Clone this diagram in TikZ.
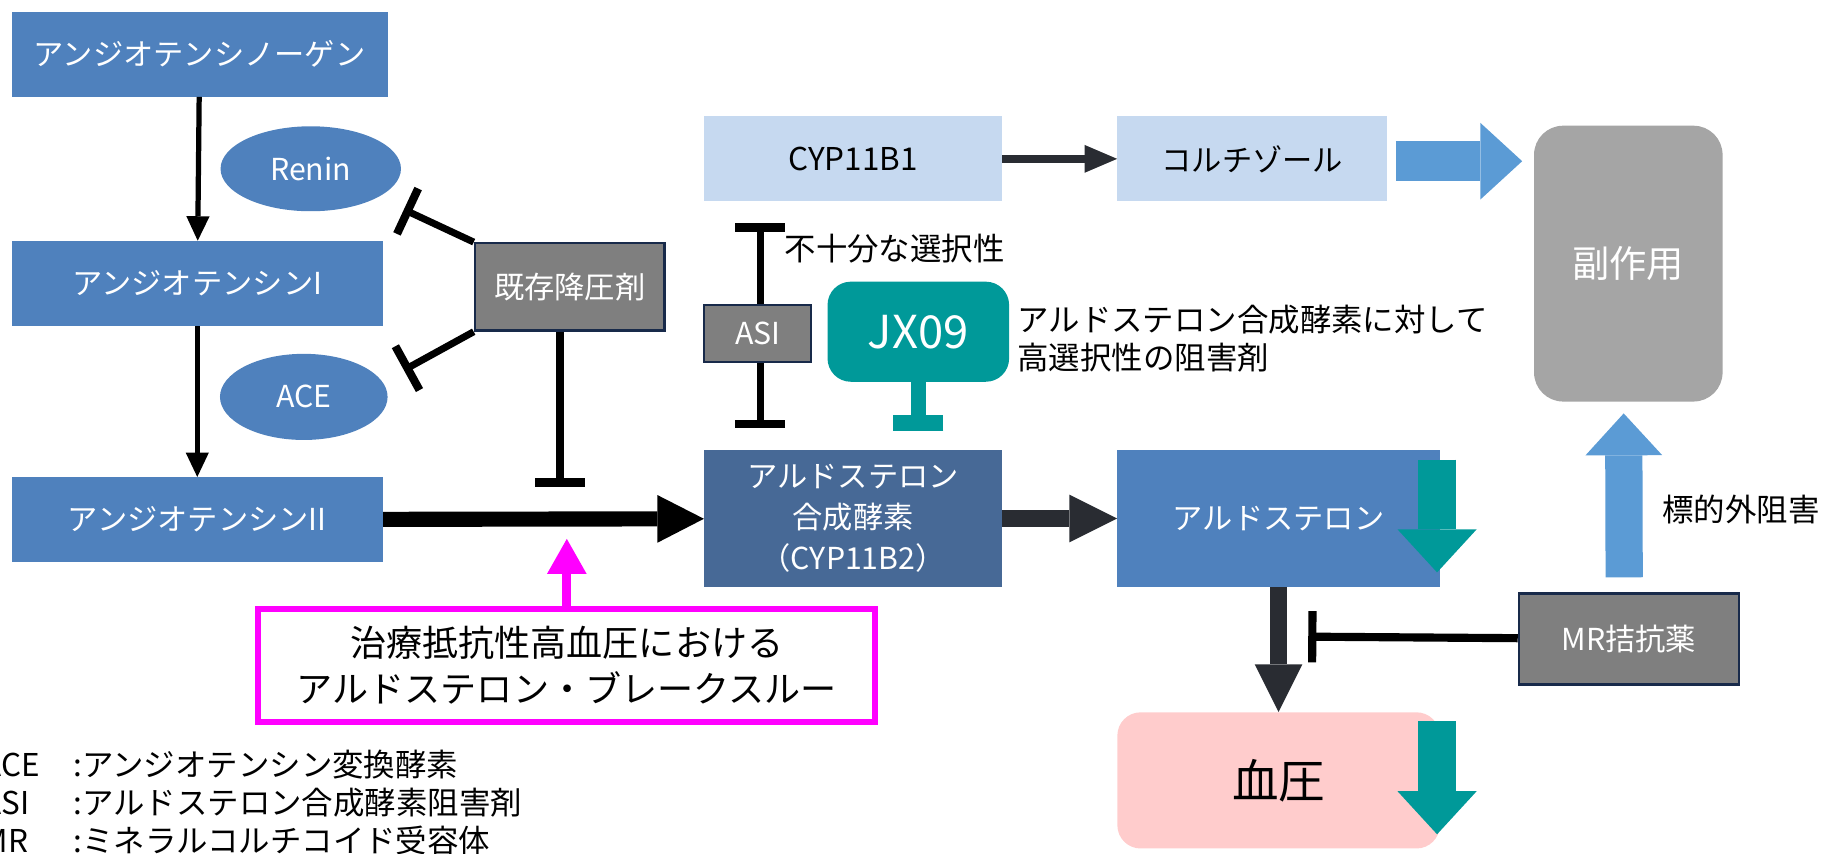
\documentclass[tikz,border=0pt]{standalone}
\usepackage{fontspec}
\setmainfont{Noto Sans CJK JP}
\usetikzlibrary{arrows.meta,calc,shapes.geometric}
\tikzset{
  box/.style={
    rectangle,
    inner sep=0pt,
    align=center,
    font=\fontsize{26}{35}\selectfont
  },
  box-blue/.style={box, fill=raasblue, text=white},
  box-dark/.style={box, fill=cypblue, text=white},
  box-light/.style={box, fill=lightblue, text=black},
  box-gray/.style={box, fill=drugray, draw=navyline, line width=2pt, text=white},
  enzyme/.style={ellipse, inner sep=0pt, fill=raasblue, text=white, font=\fontsize{26}{30}\selectfont},
  note/.style={inner sep=0pt, align=left, font=\fontsize{27}{32}\selectfont},
  arrow-thin/.style={draw=black, line width=4.5pt, -{Triangle[width=20pt,length=21pt,line width=0pt]}},
  arrow-dark/.style={draw=darkline, line width=7pt, -{Triangle[width=24pt,length=28pt,line width=0pt]}},
  arrow-fat/.style={draw=darkline, line width=14pt, -{Triangle[width=41pt,length=41pt,line width=0pt]}},
  arrow-main/.style={draw=black, line width=13pt, -{Triangle[width=41pt,length=40pt,line width=0pt]}},
  arrow-block/.style={draw=arrowblue, line width=34pt, -{Triangle[width=66pt,length=36pt,line width=0pt]}},
  arrow-pink/.style={draw=pinkline, line width=8pt, -{Triangle[width=34pt,length=30pt,line width=0pt]}},
  t-bar/.style={draw=black, line width=6pt, -{Bar[width=43pt,line width=7pt]}},
  down-mark/.style={draw=tealmark, line width=33pt, -{Triangle[width=68pt,length=37pt,line width=0pt]}}
}
\definecolor{raasblue}{RGB}{79,129,189}
\definecolor{cypblue}{RGB}{71,105,150}
\definecolor{lightblue}{RGB}{198,217,240}
\definecolor{drugray}{RGB}{127,127,127}
\definecolor{navyline}{RGB}{24,42,74}
\definecolor{sidegray}{RGB}{165,165,165}
\definecolor{arrowblue}{RGB}{91,155,213}
\definecolor{tealmark}{RGB}{0,153,153}
\definecolor{bppink}{RGB}{255,204,204}
\definecolor{darkline}{RGB}{41,44,50}
\definecolor{pinkline}{RGB}{255,0,255}
\newcommand{\downmark}[1]{
  \draw[down-mark] ($(#1.north east)+(-2.5,8)$) -- ++(0,97);
}

\begin{document}
\begin{tikzpicture}[x=1pt,y=-1pt]
  \useasboundingbox (0,0) rectangle (1568,733);
  \clip (0,0) rectangle (1568,733);

  % renin-angiotensin chain
  \node[box-blue, minimum width=323, minimum height=73] (agt) at (171.5,46.5) {アンジオテンシノーゲン};
  \node[box-blue, minimum width=319, minimum height=73] (ang1) at (169.5,243.5) {アンジオテンシンI};
  \node[box-blue, minimum width=319, minimum height=73] (ang2) at (169.5,446.5) {アンジオテンシンII};
  \node[enzyme, minimum width=155, minimum height=73] (renin) at (267,145) {Renin};
  \node[enzyme, minimum width=144, minimum height=74] (ace) at (261,341) {ACE};
  \node[box-gray, minimum width=163, minimum height=75] (kizon) at (489.5,246.5) {既存降圧剤};

  \draw[arrow-thin] (agt) -- (ang1);
  \draw[arrow-thin] (ang1) -- (ang2);

  \coordinate (renin-bar) at (347,180);
  \coordinate (ace-bar) at (347,318);
  \coordinate (kizon-bar) at (481,418);
  \draw[t-bar] (kizon.north west) -- (renin-bar);
  \draw[t-bar] (kizon.south west) -- (ace-bar);
  \draw[t-bar, line width=6.5pt] (kizon-bar |- kizon.south) -- (kizon-bar);

  % steroid synthesis
  \node[box-light, minimum width=256, minimum height=73, font=\fontsize{27}{30}\selectfont] (cyp1) at (733,136.5) {CYP11B1};
  \node[box-light, minimum width=232, minimum height=73] (cort) at (1076,136.5) {コルチゾール};
  \node[box-dark, minimum width=256, minimum height=117] (cyp2) at (733,445.5) {アルドステロン\\合成酵素\\（CYP11B2）};
  \node[box-blue, minimum width=277, minimum height=117] (aldo) at (1098.5,445.5) {アルドステロン};
  \node[box, fill=bppink, rounded corners=20pt, minimum width=277, minimum height=117,
        font=\fontsize{40}{44}\selectfont] (bp) at (1098.5,670.5) {血圧};
  \node[box, fill=sidegray, text=white, rounded corners=25pt, minimum width=162, minimum height=237,
        font=\fontsize{32}{36}\selectfont] (side) at (1399,226.5) {副作用};

  \draw[arrow-dark] (cyp1) -- (cort);
  \draw[arrow-main] (ang2) -- (cyp2);
  \draw[arrow-fat] (cyp2) -- (aldo);
  \draw[arrow-fat] (aldo) -- (bp);
  \draw[arrow-block, shorten <=7pt, shorten >=10pt] ([yshift=-2]cort.east) -- ([yshift=-2]cort.east -| side.west);

  % inhibitors
  \node[box-gray, minimum width=92, minimum height=49] (asi) at (651,286.5) {ASI};
  \node[box, fill=tealmark, text=white, rounded corners=20pt, minimum width=156, minimum height=86,
        font=\fontsize{39}{42}\selectfont] (jx) at (789,285) {JX09};
  \node[box-gray, minimum width=189, minimum height=78] (mr) at (1399.5,549) {MR拮抗薬};

  \coordinate (asi-top) at (653,192);
  \coordinate (asi-bot) at (653,368);
  \coordinate (jx-bar) at (789,370);
  \coordinate (mr-bar) at (1124,547);
  \draw[t-bar] (asi.north -| asi-top) -- (asi-top);
  \draw[t-bar] (asi.south -| asi-bot) -- (asi-bot);
  \draw[t-bar, draw=tealmark, line width=12.5pt, -{Bar[width=43pt,line width=13.5pt]}] (jx) -- (jx-bar);
  \draw[t-bar, line width=7pt, -{Bar[width=44pt,line width=7pt]}] (mr) -- (mr-bar);
  \draw[arrow-block, line width=32pt, shorten <=13pt, shorten >=10pt] ([xshift=-4]mr.north) -- ([xshift=-4]side.south);

  \node[note, anchor=west] (insuff) at (674,214) {不十分な選択性};
  \node[note, anchor=west] (jx-note) at (874,291) {アルドステロン合成酵素に対して\\高選択性の阻害剤};
  \node[note, anchor=west] (offtarget) at (1428,438) {標的外阻害};

  % decrease marks
  \downmark{aldo}
  \downmark{bp}

  % breakthrough
  \node[box, draw=pinkline, line width=5pt, minimum width=530, minimum height=97,
        font=\fontsize{31}{40}\selectfont] (bt) at (487,571.5) {治療抵抗性高血圧における\\アルドステロン・ブレークスルー};
  \coordinate (bt-tip) at (487,463);
  \draw[arrow-pink] (bt.north) -- (bt-tip);

  % abbreviations
  \foreach \abbr/\desc [count=\i] in {ACE/アンジオテンシン変換酵素,ASI/アルドステロン合成酵素阻害剤,MR/ミネラルコルチコイド受容体}{
    \node[note, anchor=west] (abbr-\i) at (-15,624.5+32.5*\i) {\makebox[78pt][l]{\abbr}:\desc};
  }
\end{tikzpicture}
\end{document}
